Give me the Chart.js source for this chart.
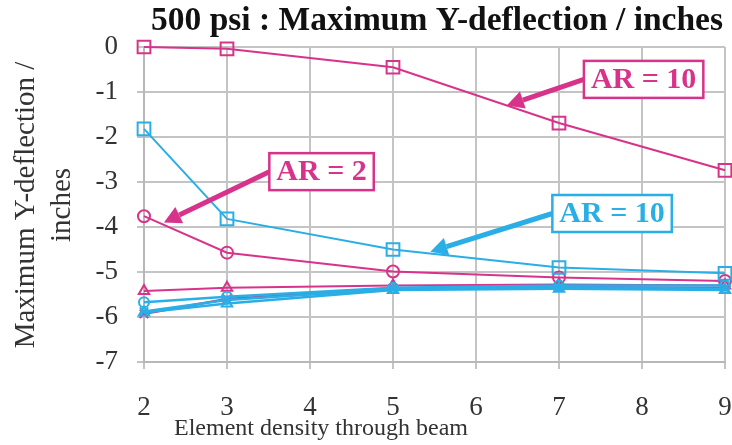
<!DOCTYPE html>
<html>
<head>
<meta charset="utf-8">
<script src="https://cdn.jsdelivr.net/npm/chart.js@4.4.1/dist/chart.umd.min.js"></script>
<style>
html,body{margin:0;padding:0;background:#fff;}
#wrap{width:732px;height:445px;position:relative;}
</style>
</head>
<body>
<div id="wrap"><canvas id="c" width="732" height="445"></canvas></div>
<script>
// ---- data ----
const elementDensity = [2, 3, 5, 7, 9];
const xTicks = [2, 3, 4, 5, 6, 7, 8, 9];
const yTicks = [0, -1, -2, -3, -4, -5, -6, -7];

const magentaSquare   = [0, -0.04, -0.45, -1.69, -2.74];
const magentaCircle   = [-3.76, -4.57, -4.99, -5.12, -5.2];
const magentaTriangle = [-5.42, -5.35, -5.3, -5.28, -5.3];
const magentaCross    = [-5.93, -5.6, -5.37, -5.33, -5.36];
const cyanSquare      = [-1.82, -3.82, -4.5, -4.9, -5.03];
const cyanCircle      = [-5.67, -5.55, -5.35, -5.3, -5.3];
const cyanTriangle    = [-5.9, -5.7, -5.4, -5.37, -5.4];
const cyanCross       = [-5.88, -5.62, -5.38, -5.34, -5.37];

const titleText = '500 psi : Maximum Y-deflection / inches';
const yTitle = ['Maximum Y-deflection /', 'inches'];
const xTitle = 'Element density through beam';

// annotation labels: text, colour key, arrow tip (data coords), box anchor (data coords, left-middle)
const annLabels = ['AR = 10', 'AR = 2', 'AR = 10'];
const annColors = ['magenta', 'magenta', 'cyan'];
const annTipX = [6.37, 2.24, 5.45];
const annTipY = [-1.3, -3.9, -4.55];
const annBoxX = [7.3, 3.51, 6.92];
const annBoxY = [-0.72, -2.77, -3.7];

const COLORS = { magenta: '#D8338A', cyan: '#2AAEE6' };
const SERIF = '"Liberation Serif", "DejaVu Serif", serif';

function pts(arr) { return arr.map((v, i) => ({ x: elementDensity[i], y: v })); }
function ds(label, data, color, style, radius, width) {
  return {
    label, data: pts(data), borderColor: color, backgroundColor: 'rgba(0,0,0,0)',
    pointStyle: style, pointRadius: radius, pointBorderWidth: 2, pointBorderColor: color,
    pointBackgroundColor: 'rgba(255,255,255,0)', borderWidth: width, tension: 0, clip: false
  };
}

const datasets = [
  ds('cyan triangle', cyanTriangle, COLORS.cyan, 'triangle', 6, 2.5),
  ds('cyan cross', cyanCross, COLORS.cyan, 'crossRot', 6, 2.5),
  ds('cyan circle', cyanCircle, COLORS.cyan, 'circle', 5, 2.5),
  ds('magenta cross', magentaCross, COLORS.magenta, 'crossRot', 6, 2.5),
  ds('magenta triangle', magentaTriangle, COLORS.magenta, 'triangle', 6, 2),
  ds('cyan square', cyanSquare, COLORS.cyan, 'rect', 9, 2),
  ds('magenta circle', magentaCircle, COLORS.magenta, 'circle', 6, 2),
  ds('magenta square', magentaSquare, COLORS.magenta, 'rect', 9, 2)
];

const overlay = {
  id: 'overlay',
  afterDraw(chart) {
    const ctx = chart.ctx, xs = chart.scales.x, ys = chart.scales.y;
    ctx.save();
    // title
    ctx.fillStyle = '#111';
    ctx.font = 'bold 33.5px ' + SERIF;
    ctx.textAlign = 'center'; ctx.textBaseline = 'alphabetic';
    ctx.fillText(titleText, 437, 30);
    // x title
    ctx.fillStyle = '#333';
    ctx.font = '24px ' + SERIF;
    ctx.textBaseline = 'middle';
    ctx.fillText(xTitle, 321, 429);
    // y title (rotated)
    ctx.save();
    ctx.translate(0, 205);
    ctx.rotate(-Math.PI / 2);
    ctx.font = '29px ' + SERIF;
    ctx.fillText(yTitle[0], 0, 26);
    ctx.fillText(yTitle[1], 0, 62);
    ctx.restore();
    // annotations
    for (let i = 0; i < annLabels.length; i++) {
      const col = COLORS[annColors[i]];
      const tx = xs.getPixelForValue(annTipX[i]), ty = ys.getPixelForValue(annTipY[i]);
      const bx = xs.getPixelForValue(annBoxX[i]), by = ys.getPixelForValue(annBoxY[i]);
      ctx.font = 'bold 30px ' + SERIF;
      const tw = ctx.measureText(annLabels[i]).width;
      const bw = tw + 14, bh = 37;
      // arrow
      const ang = Math.atan2(ty - by, tx - bx);
      const headLen = 17, headW = 9;
      const hx = tx - headLen * Math.cos(ang), hy = ty - headLen * Math.sin(ang);
      ctx.strokeStyle = col; ctx.lineWidth = 5; ctx.lineCap = 'butt';
      ctx.beginPath(); ctx.moveTo(bx, by); ctx.lineTo(hx, hy); ctx.stroke();
      ctx.fillStyle = col;
      ctx.beginPath();
      ctx.moveTo(tx, ty);
      ctx.lineTo(hx + headW * Math.sin(ang), hy - headW * Math.cos(ang));
      ctx.lineTo(hx - headW * Math.sin(ang), hy + headW * Math.cos(ang));
      ctx.closePath(); ctx.fill();
      // box
      ctx.fillStyle = '#fff';
      ctx.fillRect(bx, by - bh / 2, bw, bh);
      ctx.lineWidth = 2.5; ctx.strokeStyle = col;
      ctx.strokeRect(bx, by - bh / 2, bw, bh);
      ctx.fillStyle = col; ctx.textAlign = 'left'; ctx.textBaseline = 'middle';
      ctx.fillText(annLabels[i], bx + 7, by + 1);
    }
    ctx.restore();
  }
};

new Chart(document.getElementById('c'), {
  type: 'line',
  data: { datasets },
  options: {
    responsive: false, animation: false,
    layout: { autoPadding: false, padding: { top: 47, right: 7, left: 0, bottom: 0 } },
    plugins: { legend: { display: false }, title: { display: false }, tooltip: { enabled: false } },
    scales: {
      x: {
        type: 'linear', min: 2, max: 9,
        afterBuildTicks: s => { s.ticks = xTicks.map(v => ({ value: v })); },
        afterFit: s => { s.height = 83; s.paddingLeft = 0; s.paddingRight = 0; },
        grid: { color: '#c4c4c4', lineWidth: 2, tickLength: 7, drawTicks: true },
        border: { color: '#b8b8b8', width: 2 },
        ticks: { font: { family: SERIF, size: 27 }, color: '#333', padding: 23 }
      },
      y: {
        type: 'linear', min: -7, max: 0,
        afterBuildTicks: s => { s.ticks = yTicks.map(v => ({ value: v })); },
        afterFit: s => { s.width = 144; s.paddingTop = 0; s.paddingBottom = 0; },
        grid: { color: '#c4c4c4', lineWidth: 2, tickLength: 7 },
        border: { color: '#b8b8b8', width: 2 },
        ticks: { font: { family: SERIF, size: 27 }, color: '#333', padding: 19 }
      }
    }
  },
  plugins: [overlay]
});
</script>
</body>
</html>
